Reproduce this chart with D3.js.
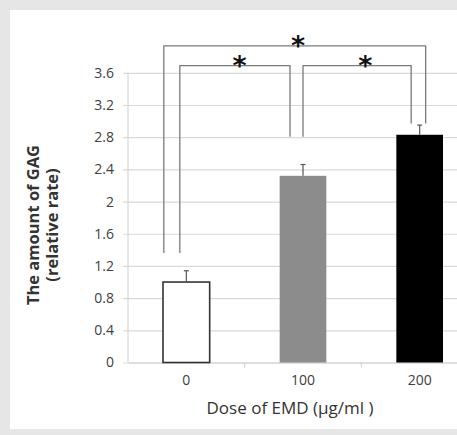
<!DOCTYPE html>
<html>
<head>
<meta charset="utf-8">
<script src="https://cdn.jsdelivr.net/npm/d3@7"></script>
<style>
  html, body { margin: 0; padding: 0; background: #e6e6e6; }
  svg { display: block; }
</style>
</head>
<body>
<div id="chart"></div>
<script>
const doses = ['0', '100', '200'];
const gag = [1.0, 2.32, 2.83];
const gagErr = [0.14, 0.14, 0.12];
const barColors = ['#ffffff', '#8c8c8c', '#000000'];
const yTicks = [0, 0.4, 0.8, 1.2, 1.6, 2, 2.4, 2.8, 3.2, 3.6];

// significance brackets: which bars, bracket height, where each leg stops,
// and how far along the bracket the star sits
const brackets = [
  { from: '0', to: '200', level: 3.935, fromEnd: 1.36, toEnd: 2.97, starAt: 0.513 },
  { from: '0', to: '100', level: 3.69, fromEnd: 1.36, toEnd: 2.805, starAt: 0.542 },
  { from: '100', to: '200', level: 3.69, fromEnd: 2.805, toEnd: 2.97, starAt: 0.577 }
];

const width = 457, height = 435;

const svg = d3.select('#chart')
  .append('svg')
  .attr('width', width)
  .attr('height', height);

svg.append('rect')
  .attr('x', 10).attr('y', 10)
  .attr('width', width - 10).attr('height', 419)
  .attr('fill', '#ffffff');

const x = d3.scaleBand().domain(doses).range([128, 478]);
const y = d3.scaleLinear().domain([0, 3.6]).range([362.5, 72.8]);
const barW = x.bandwidth() * 0.4;
const cx = d => x(d) + x.bandwidth() / 2;

// grid + y axis
const yAxis = svg.append('g')
  .attr('transform', 'translate(128,0)')
  .call(d3.axisLeft(y).tickValues(yTicks).tickSize(-(width - 128)).tickPadding(14)
    .tickFormat(d => d3.format('')(d)));
yAxis.select('.domain').remove();
yAxis.selectAll('.tick line')
  .attr('stroke', '#d9d9d9').attr('stroke-width', 1.2)
  .attr('x1', -5);
yAxis.selectAll('.tick text')
  .attr('fill', '#404040').attr('font-size', 14).attr('font-family', 'Open Sans');

svg.append('line')
  .attr('x1', 128).attr('x2', 128)
  .attr('y1', y(3.6)).attr('y2', y(0))
  .attr('stroke', '#d0d0d0');

// x axis
const xAxis = svg.append('g')
  .attr('transform', `translate(0,${y(0)})`)
  .call(d3.axisBottom(x).tickSize(0).tickPadding(13));
xAxis.select('.domain').attr('stroke', '#d0d0d0').attr('stroke-width', 1.2);
xAxis.selectAll('.tick text')
  .attr('fill', '#404040').attr('font-size', 14).attr('font-family', 'Open Sans');

svg.append('g')
  .selectAll('line')
  .data(doses.slice(1))
  .join('line')
  .attr('x1', d => x(d)).attr('x2', d => x(d))
  .attr('y1', y(0)).attr('y2', y(0) + 5)
  .attr('stroke', '#d0d0d0');

// bars
svg.append('g')
  .selectAll('rect')
  .data(doses)
  .join('rect')
  .attr('x', d => cx(d) - barW / 2)
  .attr('y', (d, i) => y(gag[i]))
  .attr('width', barW)
  .attr('height', (d, i) => y(0) - y(gag[i]))
  .attr('fill', (d, i) => barColors[i])
  .attr('stroke', (d, i) => i === 0 ? '#333' : 'none')
  .attr('stroke-width', 1.6);

// error bars
const err = svg.append('g').attr('stroke', '#555').attr('stroke-width', 1.2);
err.selectAll('line.v')
  .data(doses)
  .join('line')
  .attr('class', 'v')
  .attr('x1', d => cx(d)).attr('x2', d => cx(d))
  .attr('y1', (d, i) => y(gag[i]))
  .attr('y2', (d, i) => y(gag[i] + gagErr[i]));
err.selectAll('line.cap')
  .data(doses)
  .join('line')
  .attr('class', 'cap')
  .attr('x1', d => cx(d) - 2.5).attr('x2', d => cx(d) + 2.5)
  .attr('y1', (d, i) => y(gag[i] + gagErr[i]))
  .attr('y2', (d, i) => y(gag[i] + gagErr[i]));

// leg positions relative to bar centre, picked by bracket
const legOffset = (b, side) => {
  if (b.from === '0' && b.to === '200') return side === 'from' ? -22.5 : 6;
  if (b.from === '0') return side === 'from' ? -6.5 : -13;
  return side === 'from' ? 0 : -8.5;
};
const legX = (b, side) => cx(b[side]) + legOffset(b, side);

const br = svg.append('g');
br.selectAll('path')
  .data(brackets)
  .join('path')
  .attr('fill', 'none')
  .attr('stroke', '#7a7a7a')
  .attr('stroke-width', 1.3)
  .attr('d', b => `M${legX(b, 'from')},${y(b.fromEnd)}V${y(b.level)}H${legX(b, 'to')}V${y(b.toEnd)}`);

br.selectAll('text')
  .data(brackets)
  .join('text')
  .attr('x', b => legX(b, 'from') + (legX(b, 'to') - legX(b, 'from')) * b.starAt)
  .attr('y', b => y(b.level) + 9)
  .attr('text-anchor', 'middle')
  .attr('font-family', 'DejaVu Sans')
  .attr('font-weight', 'bold')
  .attr('font-size', 27)
  .attr('fill', '#111')
  .text('*');

// axis titles
svg.append('text')
  .attr('x', 290).attr('y', 414)
  .attr('text-anchor', 'middle')
  .attr('font-family', 'Open Sans')
  .attr('font-size', 17)
  .attr('fill', '#333')
  .text('Dose of EMD (μg/ml )');

const yt = svg.append('text')
  .attr('transform', 'translate(0,225) rotate(-90)')
  .attr('text-anchor', 'middle')
  .attr('font-family', 'Open Sans')
  .attr('font-weight', 'bold')
  .attr('font-size', 16.5)
  .attr('fill', '#333');
yt.append('tspan').attr('x', 0).attr('y', 39).text('The amount of GAG');
yt.append('tspan').attr('x', 0).attr('y', 58).text('(relative rate)');
</script>
</body>
</html>
